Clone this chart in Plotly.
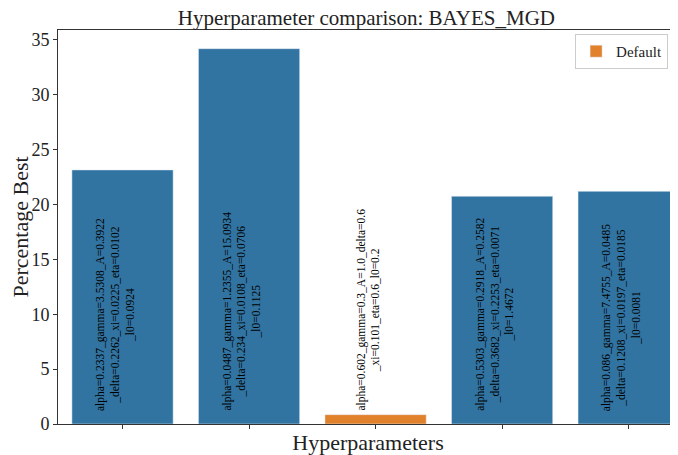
import plotly.graph_objects as go

# Percentage of runs where each hyperparameter set was best
categories = ["set1", "set2", "default", "set4", "set5"]
percent_best = [23.15, 34.2, 0.85, 20.75, 21.2]
is_default = [False, False, True, False, False]
labels = [
    "alpha=0.2337_gamma=3.5308_A=0.3922<br>_delta=0.2262_xi=0.0225_eta=0.0102<br>_l0=0.0924",
    "alpha=0.0487_gamma=1.2355_A=15.0934<br>_delta=0.234_xi=0.0108_eta=0.0706<br>_l0=0.1125",
    "alpha=0.602_gamma=0.3_A=1.0_delta=0.6<br>_xi=0.101_eta=0.6_l0=0.2",
    "alpha=0.5303_gamma=0.2918_A=0.2582<br>_delta=0.3682_xi=0.2253_eta=0.0071<br>_l0=1.4672",
    "alpha=0.086_gamma=7.4755_A=0.0485<br>_delta=0.1208_xi=0.0197_eta=0.0185<br>_l0=0.0081",
]

BLUE = "#3274a1"
ORANGE = "#e1812c"
SERIF = "Liberation Serif, DejaVu Serif, serif"

xs = list(range(len(categories)))
fig = go.Figure()

fig.add_trace(go.Bar(
    x=[x for x, d in zip(xs, is_default) if not d],
    y=[v for v, d in zip(percent_best, is_default) if not d],
    marker_color=BLUE, width=0.8, showlegend=False,
))
fig.add_trace(go.Bar(
    x=[x for x, d in zip(xs, is_default) if d],
    y=[v for v, d in zip(percent_best, is_default) if d],
    marker_color=ORANGE, width=0.8, name="Default",
))

for x, text in zip(xs, labels):
    fig.add_annotation(
        x=x, y=1.0, text=text, textangle=-90, showarrow=False,
        xanchor="center", yanchor="bottom", xshift=-8, align="center",
        font={"family": SERIF, "size": 11.5, "color": "black"},
    )

# the page body has an 8px margin, so the figure is 8px smaller on each side
fig.update_layout(
    width=670,
    height=447,
    margin={"l": 48, "r": 0, "t": 22, "b": 31},
    title={"text": "Hyperparameter comparison: BAYES_MGD", "x": 0.535, "xanchor": "center",
           "y": 0.979, "yanchor": "middle", "font": {"size": 21}},
    font={"family": SERIF, "size": 18, "color": "#222"},
    plot_bgcolor="white",
    paper_bgcolor="white",
    bargap=0.2,
    legend={"x": 0.834, "y": 0.99, "xanchor": "left", "yanchor": "top",
            "bordercolor": "#cccccc", "borderwidth": 1, "font": {"size": 15}},
)
fig.update_xaxes(
    range=[-0.51, 4.39], tickvals=xs, ticktext=[""] * len(xs),
    ticks="outside", ticklen=4, tickcolor="#333",
    showline=True, linecolor="#333", linewidth=1, mirror=True,
    showgrid=False, zeroline=False,
    title={"text": "Hyperparameters", "standoff": 2},
)
fig.update_yaxes(
    range=[0, 35.9], tickvals=[0, 5, 10, 15, 20, 25, 30, 35],
    ticks="outside", ticklen=4, tickcolor="#333",
    showline=True, linecolor="#333", linewidth=1,
    showgrid=False, zeroline=False,
    title={"text": "Percentage Best", "standoff": 8},
)

fig.write_html("out.html")
